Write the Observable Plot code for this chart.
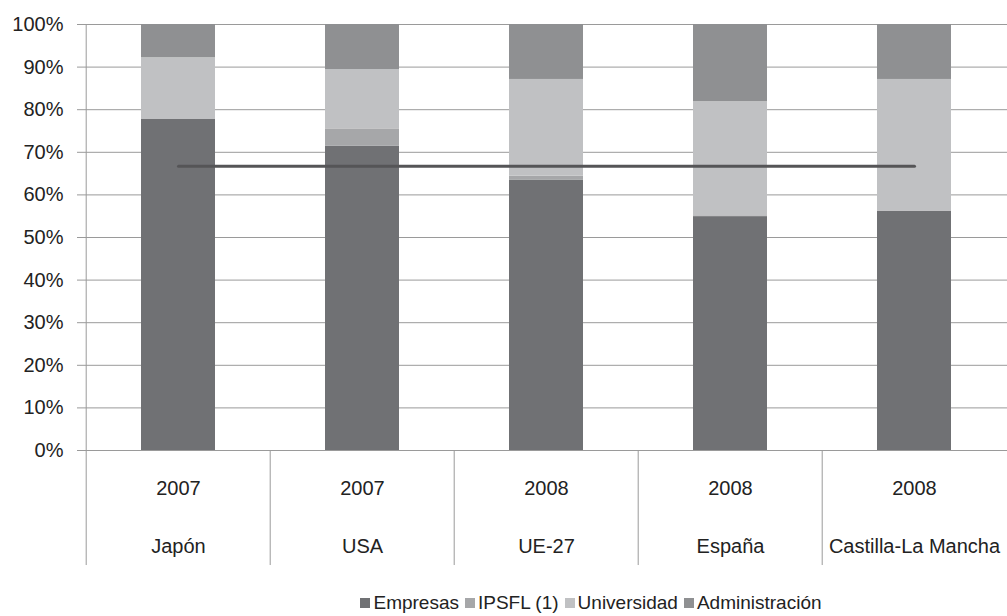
<!DOCTYPE html>
<html>
<head>
<meta charset="utf-8">
<script src="https://cdn.jsdelivr.net/npm/d3@7"></script>
<script src="https://cdn.jsdelivr.net/npm/@observablehq/plot@0.6"></script>
<style>
  html, body { margin: 0; padding: 0; background: #fff; }
  body { width: 1007px; height: 616px; overflow: hidden; font-family: "Liberation Sans", Arial, sans-serif; }
  #legend { display: flex; justify-content: center; align-items: center; gap: 6px; font-size: 19px; color: #222; margin-top: 17px; padding-left: 175px; }
  #legend .item { display: flex; align-items: center; gap: 3px; }
  #legend .sw { width: 10px; height: 10px; display: inline-block; }
</style>
</head>
<body>
<div id="chart"></div>
<div id="legend"></div>
<script>
const regions = ["Japón", "USA", "UE-27", "España", "Castilla-La Mancha"];
const years = ["2007", "2007", "2008", "2008", "2008"];
const sectors = ["Empresas", "IPSFL (1)", "Universidad", "Administración"];
const sectorColors = ["#707174", "#a6a7a9", "#c0c1c3", "#8f9092"];
const empresas = [0.777, 0.714, 0.635, 0.549, 0.562];
const ipsfl = [0.0, 0.041, 0.009, 0.002, 0.0];
const universidad = [0.145, 0.139, 0.227, 0.268, 0.309];
const administracion = [0.078, 0.106, 0.129, 0.181, 0.129];
const target = 0.667;
const yTicks = [0, 0.1, 0.2, 0.3, 0.4, 0.5, 0.6, 0.7, 0.8, 0.9, 1.0];

const series = [empresas, ipsfl, universidad, administracion];
const rows = [];
sectors.forEach((s, si) => regions.forEach((r, ri) => rows.push({region: r, sector: s, value: series[si][ri]})));
const targetRows = regions.map(r => ({region: r, value: target}));
const labelRows = regions.map((r, i) => ({region: r, year: years[i]}));

const W = 1007, ML = 84, MR = 0;
const step = (W - ML - MR) / regions.length;

const chart = Plot.plot({
  width: W,
  height: 575,
  marginLeft: ML,
  marginRight: MR,
  marginTop: 24,
  marginBottom: 125,
  style: {fontFamily: "'Liberation Sans', Arial, sans-serif", fontSize: "20px", color: "#222", background: "#fff"},
  x: {domain: regions, paddingInner: 0.6, paddingOuter: 0.3, axis: null},
  y: {domain: [0, 1], ticks: yTicks, axis: null},
  color: {domain: sectors, range: sectorColors},
  marks: [
    Plot.gridY(yTicks, {stroke: "#9a9a9a", strokeOpacity: 1, strokeWidth: 1}),
    Plot.axisY(yTicks, {tickFormat: d => Math.round(d * 100) + "%", tickSize: 7, tickPadding: 14, stroke: "#9a9a9a", fontSize: 20, fill: "#222", label: null}),
    Plot.ruleX(regions, {x: d => d, y1: 0, y2: -0.27, dx: -step / 2, stroke: "#9a9a9a"}),
    Plot.ruleX([regions[0]], {x: d => d, y1: 0, y2: 1, dx: -step / 2, stroke: "#9a9a9a"}),
    Plot.barY(rows, {x: "region", y: "value", fill: "sector", order: sectors}),
    Plot.line(targetRows, {x: "region", y: "value", stroke: "#555557", strokeWidth: 3}),
    Plot.text(labelRows, {x: "region", text: "year", frameAnchor: "bottom", dy: 38, fontSize: 20, fill: "#222", lineAnchor: "middle"}),
    Plot.text(labelRows, {x: "region", text: "region", frameAnchor: "bottom", dy: 96, fontSize: 20, fill: "#222", lineAnchor: "middle"})
  ]
});
document.getElementById("chart").appendChild(chart);

const legend = document.getElementById("legend");
sectors.forEach((s, i) => {
  const item = document.createElement("span");
  item.className = "item";
  const sw = document.createElement("span");
  sw.className = "sw";
  sw.style.background = sectorColors[i];
  const t = document.createElement("span");
  t.textContent = s;
  item.appendChild(sw);
  item.appendChild(t);
  legend.appendChild(item);
});
</script>
</body>
</html>
